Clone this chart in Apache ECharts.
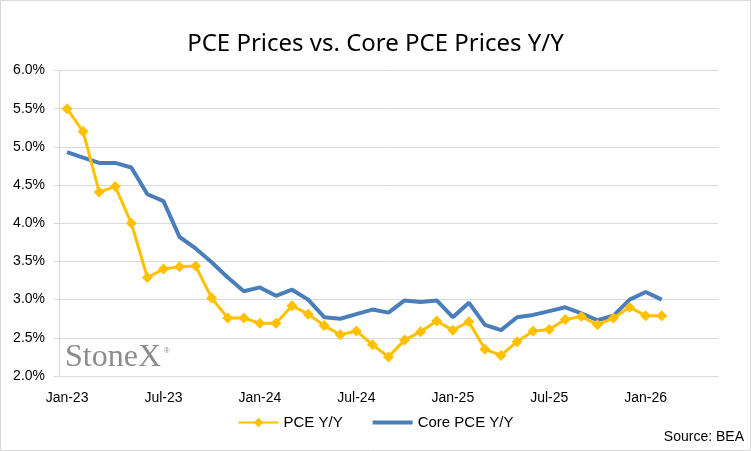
<!DOCTYPE html>
<html>
<head>
<meta charset="utf-8">
<script src="https://cdn.jsdelivr.net/npm/echarts@6/dist/echarts.min.js"></script>
<style>
  html, body { margin: 0; padding: 0; background: #fff; }
  #chart { width: 751px; height: 451px; }
</style>
</head>
<body>
<div id="chart"></div>
<script>
// PCE vs Core PCE, year over year

// Months on the date axis (Jan-23 .. May-26)
var months = [
    'Jan-23', 'Feb-23', 'Mar-23', 'Apr-23', 'May-23', 'Jun-23', 'Jul-23', 'Aug-23', 'Sep-23', 'Oct-23', 'Nov-23', 'Dec-23',
    'Jan-24', 'Feb-24', 'Mar-24', 'Apr-24', 'May-24', 'Jun-24', 'Jul-24', 'Aug-24', 'Sep-24', 'Oct-24', 'Nov-24', 'Dec-24',
    'Jan-25', 'Feb-25', 'Mar-25', 'Apr-25', 'May-25', 'Jun-25', 'Jul-25', 'Aug-25', 'Sep-25', 'Oct-25', 'Nov-25', 'Dec-25',
    'Jan-26', 'Feb-26', 'Mar-26', 'Apr-26', 'May-26'
];

// PCE Y/Y, %
var pceYY = [
    5.50, 5.20, 4.41, 4.48, 4.00, 3.29, 3.40, 3.43, 3.44, 3.02, 2.76, 2.76,
    2.69, 2.69, 2.92, 2.81, 2.66, 2.54, 2.59, 2.41, 2.25, 2.47, 2.58, 2.72,
    2.60, 2.71, 2.35, 2.27, 2.45, 2.59, 2.61, 2.74, 2.78, 2.67, 2.76, 2.90,
    2.79, 2.79
];

// Core PCE Y/Y, %
var corePceYY = [
    4.93, 4.86, 4.79, 4.79, 4.73, 4.38, 4.29, 3.82, 3.67, 3.49, 3.29, 3.11,
    3.16, 3.05, 3.13, 3.00, 2.77, 2.75, 2.81, 2.87, 2.83, 2.99, 2.97, 2.99,
    2.77, 2.96, 2.67, 2.60, 2.77, 2.80, 2.85, 2.90, 2.82, 2.73, 2.79, 3.00,
    3.10, 3.00
];

var chart = echarts.init(document.getElementById('chart'));

var option = {
    animation: false,
    backgroundColor: '#fff',
    title: {
        text: 'PCE Prices vs. Core PCE Prices Y/Y',
        left: 'center',
        top: 27,
        textStyle: {
            fontFamily: 'Noto Sans',
            fontSize: 24,
            fontWeight: 'normal',
            color: '#000'
        }
    },
    legend: {
        bottom: 16,
        left: 'center',
        itemWidth: 40,
        itemHeight: 12,
        itemGap: 30,
        textStyle: { fontFamily: 'Liberation Sans', fontSize: 15, color: '#000' },
        data: [
            'PCE Y/Y',
            { name: 'Core PCE Y/Y', icon: 'path://M0,0 L40,0 L40,4 L0,4 Z' }
        ]
    },
    grid: { left: 59, right: 33, top: 70.5, bottom: 75 },
    xAxis: {
        type: 'category',
        data: months,
        boundaryGap: true,
        axisLine: { lineStyle: { color: '#d9d9d9', width: 1 } },
        axisTick: { interval: 5, length: 5, lineStyle: { color: '#d9d9d9' } },
        axisLabel: {
            interval: 5,
            margin: 15,
            fontFamily: 'Liberation Sans',
            fontSize: 14,
            color: '#000'
        },
        splitLine: { show: false }
    },
    yAxis: {
        type: 'value',
        min: 2,
        max: 6,
        interval: 0.5,
        axisLine: { show: true, lineStyle: { color: '#d9d9d9', width: 1 } },
        axisTick: { show: true, length: 5, lineStyle: { color: '#d9d9d9' } },
        axisLabel: {
            margin: 14,
            fontFamily: 'Liberation Sans',
            fontSize: 14,
            color: '#000',
            formatter: function (v) { return v.toFixed(1) + '%'; }
        },
        splitLine: { lineStyle: { color: '#d9d9d9', width: 1 } }
    },
    series: [
        {
            name: 'PCE Y/Y',
            type: 'line',
            data: pceYY,
            color: '#FFC000',
            symbol: 'diamond',
            symbolSize: 11,
            showAllSymbol: true,
            lineStyle: { width: 3 },
            z: 3
        },
        {
            name: 'Core PCE Y/Y',
            type: 'line',
            data: corePceYY,
            color: '#4A7EBB',
            symbol: 'none',
            lineStyle: { width: 4 },
            z: 2
        }
    ],
    graphic: [
        {
            type: 'rect',
            shape: { x: 0.5, y: 0.5, width: 750, height: 450 },
            style: { fill: 'none', stroke: '#d9d9d9', lineWidth: 1 },
            silent: true
        },
        {
            type: 'text',
            left: 65,
            top: 342,
            style: { text: 'StoneX', font: '32px "Liberation Serif"', fill: '#8c8c8c' },
            z: 10
        },
        {
            type: 'text',
            left: 164,
            top: 347,
            style: { text: '\u00AE', font: '8px "Liberation Sans"', fill: '#8c8c8c' },
            z: 10
        },
        {
            type: 'text',
            right: 7,
            top: 430,
            style: { text: 'Source: BEA', font: '14px "Liberation Sans"', fill: '#000' }
        }
    ]
};

chart.setOption(option);
</script>
</body>
</html>
